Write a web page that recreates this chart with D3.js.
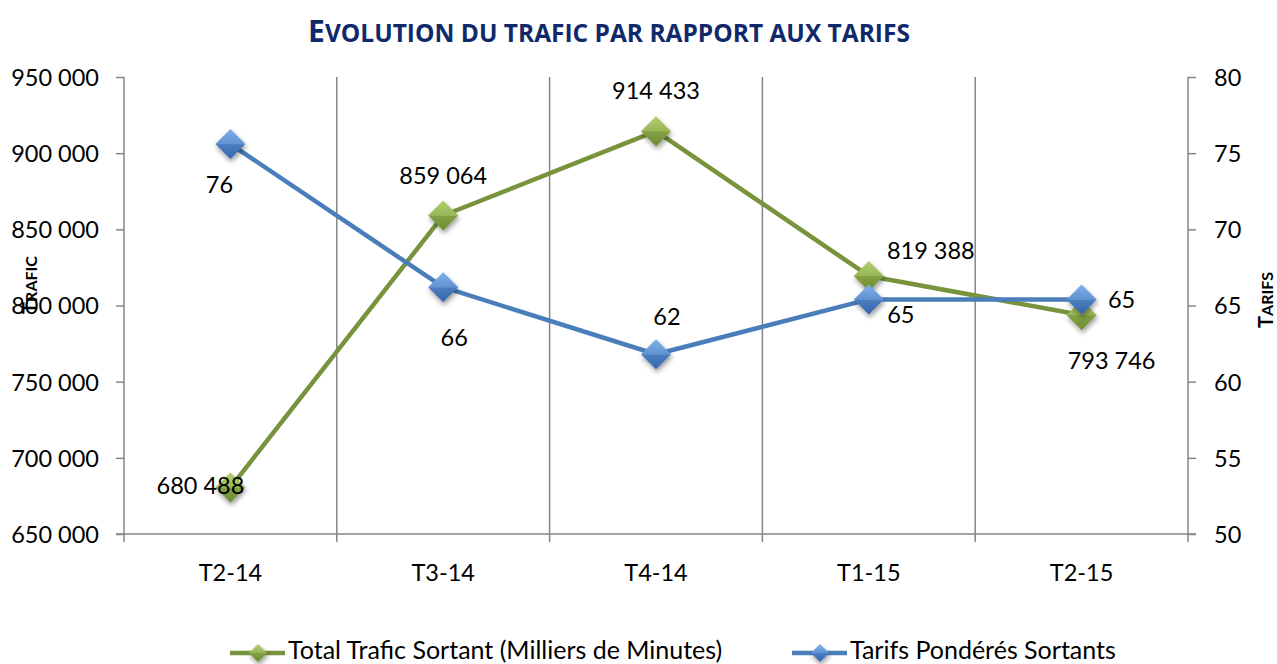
<!DOCTYPE html>
<html>
<head>
<meta charset="utf-8">
<script src="https://cdn.jsdelivr.net/npm/d3@7"></script>
<style>
  body { margin: 0; background: white; }
  svg { display: block; font-family: Lato, 'Open Sans', sans-serif; }
</style>
</head>
<body>
<main></main>
<script>
const categories = ['T2-14', 'T3-14', 'T4-14', 'T1-15', 'T2-15'];
const trafic = [680488, 859064, 914433, 819388, 793746];
const tarifs = [75.6, 66.2, 61.8, 65.4, 65.4];
const traficTicks = [650000, 700000, 750000, 800000, 850000, 900000, 950000];
const tarifTicks = [50, 55, 60, 65, 70, 75, 80];

const width = 1277;
const height = 664;
const plotLeft = 124;
const plotRight = 1188;
const plotTop = 77;
const plotBottom = 534;
const green = '#77933c';
const blue = '#4a7ebb';
const gray = '#868686';
const numSize = '23.5px';

// label offsets (dx, baseline dy) as Excel placed them
const greenOffsets = [[-30, 6], [0, -32], [0, -32], [62, -17], [30, 54]];
const blueOffsets = [[-11, 49], [11, 59], [11, -29], [32, 24], [40, 9]];

const fmt = v => d3.format(',')(v).replace(/,/g, ' ');

const xScale = d3.scaleBand()
  .domain(categories)
  .range([plotLeft, plotRight])

const yLeft = d3.scaleLinear()
  .domain([650000, 950000])
  .range([plotBottom, plotTop])

const yRight = d3.scaleLinear()
  .domain([50, 80])
  .range([plotBottom, plotTop])

const cx = c => xScale(c) + xScale.bandwidth() / 2;

const svg = d3.select('main')
  .append('svg')
  .attr('width', width)
  .attr('height', height)

const defs = svg.append('defs');
const grads = [['gGreen', '#b2d06e', '#6d8c30'], ['gBlue', '#7eb0ea', '#3567ad']];
grads.forEach(([id, c1, c2]) => {
  const g = defs.append('linearGradient')
    .attr('id', id)
    .attr('x1', 0).attr('y1', 0).attr('x2', 0).attr('y2', 1)
  g.append('stop').attr('offset', '0%').attr('stop-color', c1)
  g.append('stop').attr('offset', '50%').attr('stop-color', d3.interpolateRgb(c1, c2)(0.4))
  g.append('stop').attr('offset', '52%').attr('stop-color', d3.interpolateRgb(c1, c2)(0.7))
  g.append('stop').attr('offset', '100%').attr('stop-color', c2)
})
defs.append('filter')
  .attr('id', 'shadow')
  .attr('x', '-50%').attr('y', '-50%').attr('width', '200%').attr('height', '200%')
  .append('feDropShadow')
  .attr('dx', 1).attr('dy', 3).attr('stdDeviation', 2.5)
  .attr('flood-color', '#000').attr('flood-opacity', 0.4)

// Title
const title = svg.append('text')
  .attr('x', 609)
  .attr('y', 42)
  .attr('text-anchor', 'middle')
  .style('font-family', "'Open Sans', sans-serif")
  .style('font-weight', 'bold')
  .style('fill', '#10296a')
title.append('tspan').text('E').style('font-size', '30px')
title.append('tspan').text('VOLUTION DU TRAFIC PAR RAPPORT AUX TARIFS').style('font-size', '24.5px')

// Vertical gridlines (category boundaries) with ticks below the axis
const bounds = categories.slice(1).map(c => xScale(c));
svg.selectAll('.grid')
  .data(bounds)
  .enter()
  .append('line')
  .attr('x1', d => d).attr('x2', d => d)
  .attr('y1', plotTop).attr('y2', plotBottom + 8)
  .style('stroke', gray)
  .style('stroke-width', 1.5)

// Left axis
const leftAxis = svg.append('g')
  .attr('transform', `translate(${plotLeft},0)`)
  .call(d3.axisLeft(yLeft).tickValues(traficTicks).tickFormat(fmt).tickSize(8).tickPadding(17))
leftAxis.select('.domain').attr('d', `M0,${plotTop}V${plotBottom + 8}`)

// Right axis
const rightAxis = svg.append('g')
  .attr('transform', `translate(${plotRight},0)`)
  .call(d3.axisRight(yRight).tickValues(tarifTicks).tickSize(8).tickPadding(18))
rightAxis.select('.domain').attr('d', `M0,${plotTop}V${plotBottom + 8}`)

// Bottom axis line
svg.append('line')
  .attr('x1', plotLeft - 8).attr('x2', plotRight + 8)
  .attr('y1', plotBottom).attr('y2', plotBottom)
  .style('stroke', gray)
  .style('stroke-width', 1.5)

svg.selectAll('.tick line, .domain')
  .style('stroke', gray)
  .style('stroke-width', 1.5)
svg.selectAll('.tick text')
  .style('font-family', 'Lato, sans-serif')
  .style('font-size', numSize)
  .style('fill', '#000')
  .attr('dy', '0.36em')

// Category labels
svg.selectAll('.cat')
  .data(categories)
  .enter()
  .append('text')
  .text(d => d)
  .attr('x', d => cx(d))
  .attr('y', 581)
  .attr('text-anchor', 'middle')
  .style('font-size', numSize)

// Axis titles
const smallCaps = (sel, first, rest, big, small) => {
  sel.append('tspan').text(first).style('font-size', big)
  sel.append('tspan').text(rest).style('font-size', small)
}
const tTrafic = svg.append('text')
  .attr('transform', 'translate(37,285) rotate(-90)')
  .attr('text-anchor', 'middle')
  .style('font-weight', 'bold')
smallCaps(tTrafic, 'T', 'RAFIC', '20px', '16px')
const tTarifs = svg.append('text')
  .attr('transform', 'translate(1273,300) rotate(-90)')
  .attr('text-anchor', 'middle')
  .style('font-weight', 'bold')
smallCaps(tTarifs, 'T', 'ARIFS', '20px', '16px')

const diamond = 'M0,-15L15,0L0,15L-15,0Z';

function drawSeries(values, scale, color, gradId) {
  const line = d3.line()
    .x((d, i) => cx(categories[i]))
    .y(d => scale(d))
  svg.append('path')
    .datum(values)
    .attr('d', line)
    .style('fill', 'none')
    .style('stroke', color)
    .style('stroke-width', 4.5)
    .style('stroke-linejoin', 'round')

  svg.selectAll(null)
    .data(values)
    .enter()
    .append('path')
    .attr('d', diamond)
    .attr('transform', (d, i) => `translate(${cx(categories[i])},${scale(d)})`)
    .style('fill', `url(#${gradId})`)
    .style('filter', 'url(#shadow)')
}

function drawLabels(values, scale, offsets, labelFmt) {
  svg.selectAll(null)
    .data(values)
    .enter()
    .append('text')
    .text(d => labelFmt(d))
    .attr('x', (d, i) => cx(categories[i]) + offsets[i][0])
    .attr('y', (d, i) => scale(d) + offsets[i][1])
    .attr('text-anchor', 'middle')
    .style('font-size', numSize)
}

drawSeries(trafic, yLeft, green, 'gGreen')
drawSeries(tarifs, yRight, blue, 'gBlue')
drawLabels(trafic, yLeft, greenOffsets, fmt)
drawLabels(tarifs, yRight, blueOffsets, d => Math.round(d))

// Legend
const legend = [
  { name: 'Total Trafic Sortant (Milliers de Minutes)', color: green, grad: 'gGreen', x: 230 },
  { name: 'Tarifs Pondérés Sortants', color: blue, grad: 'gBlue', x: 792 }
];
const lg = svg.selectAll('.legend')
  .data(legend)
  .enter()
  .append('g')
  .attr('transform', d => `translate(${d.x},653)`)
lg.append('line')
  .attr('x1', 0).attr('x2', 55)
  .style('stroke', d => d.color)
  .style('stroke-width', 4.5)
lg.append('path')
  .attr('d', 'M0,-9L9,0L0,9L-9,0Z')
  .attr('transform', 'translate(28,0)')
  .style('fill', d => `url(#${d.grad})`)
  .style('filter', 'url(#shadow)')
lg.append('text')
  .text(d => d.name)
  .attr('x', 58)
  .attr('y', 6)
  .style('font-size', '25px')
</script>
</body>
</html>
